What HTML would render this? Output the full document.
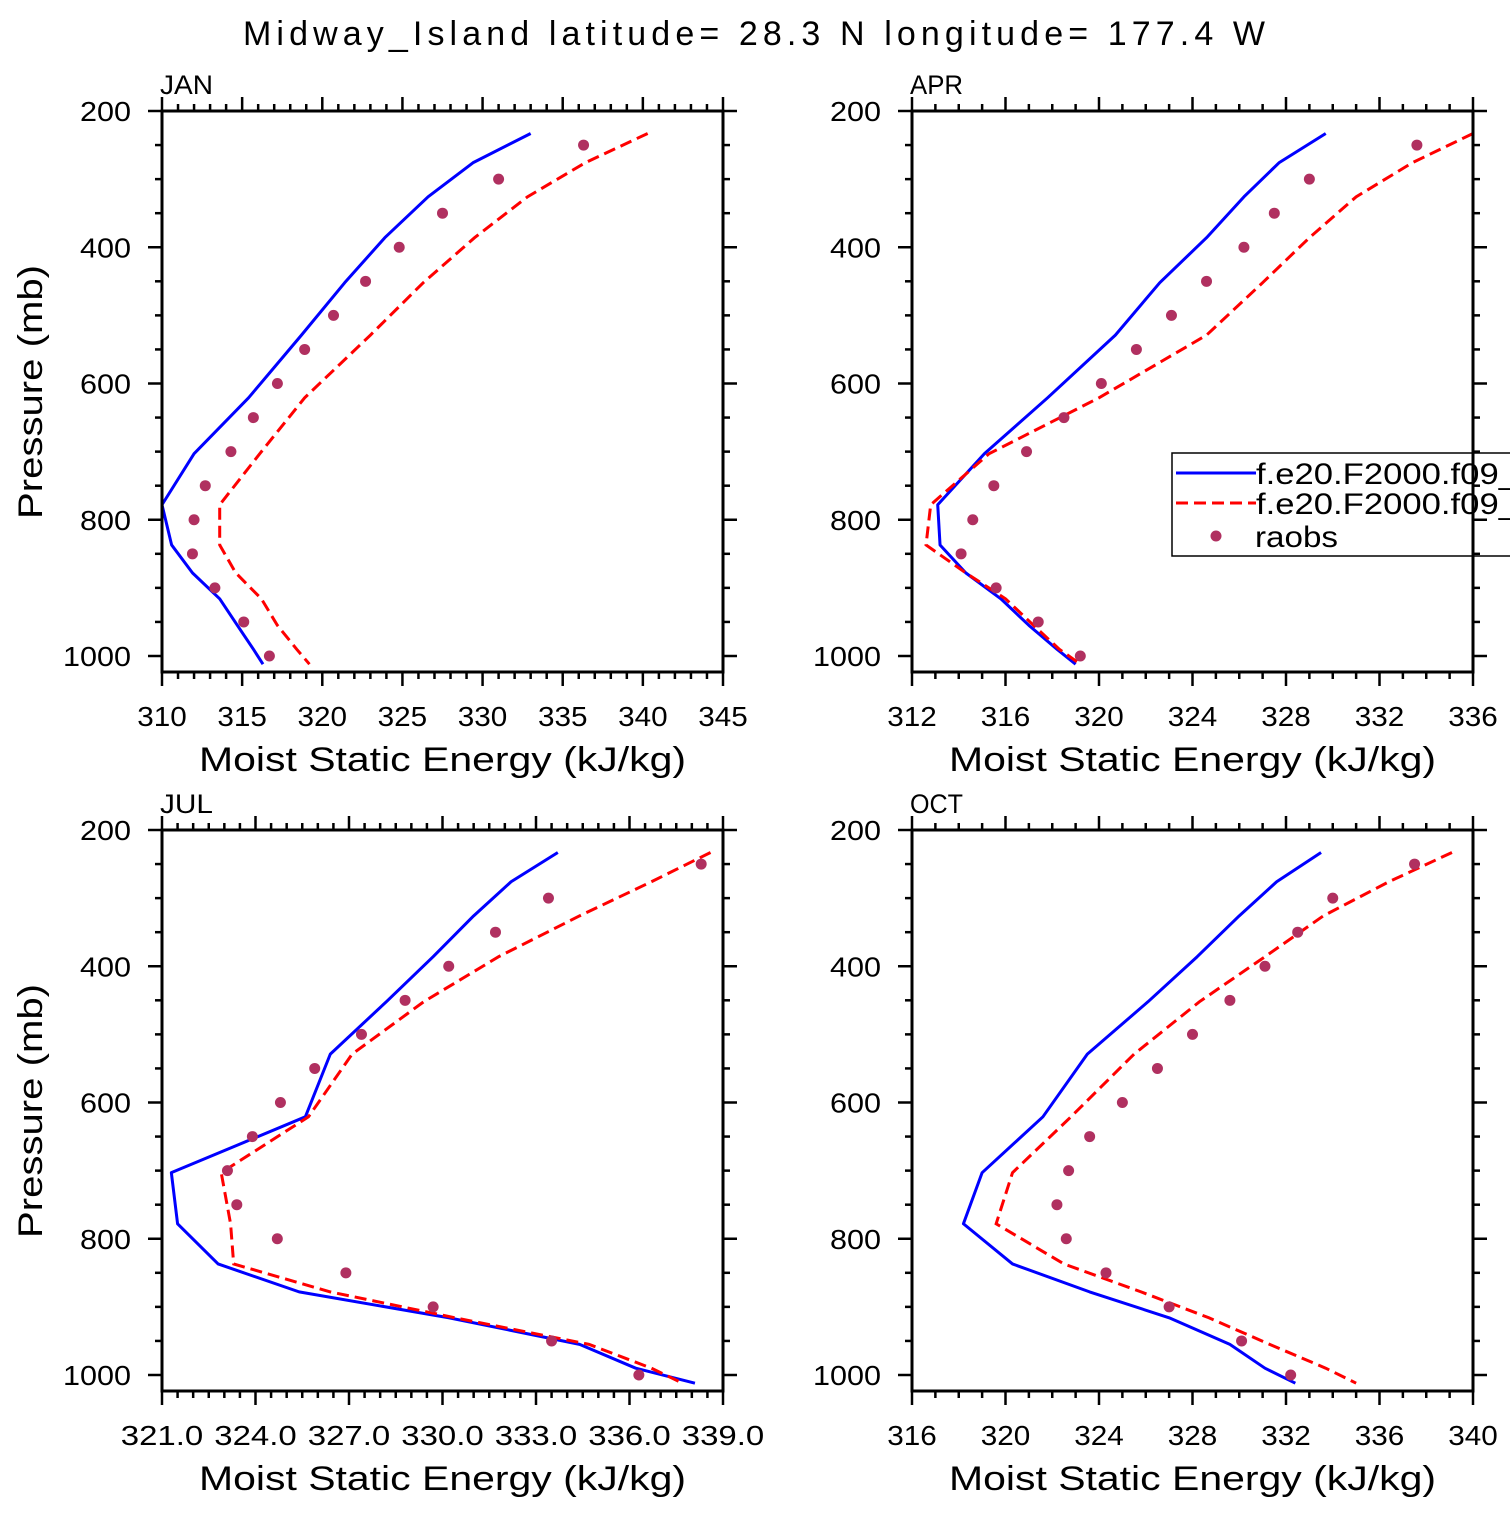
<!DOCTYPE html>
<html><head><meta charset="utf-8"><style>
html,body{margin:0;padding:0;background:#fff;}
svg text{font-family:"Liberation Sans","DejaVu Sans",sans-serif;fill:#000;}
</style></head><body>
<svg id="c" width="1510" height="1510" viewBox="0 0 1510 1510" xmlns="http://www.w3.org/2000/svg">
<text x="243" y="45" font-size="34" textLength="1022" lengthAdjust="spacing">Midway_Island  latitude= 28.3 N longitude= 177.4 W</text>
</svg>
<script>
const P_MODEL=[233,276,326,386,452,529,621,703,778,837,878,916,955,990,1012];
const P_OBS=[250,300,350,400,450,500,550,600,650,700,750,800,850,900,950,1000];
const JAN_BLUE=[333.0,329.4,326.6,323.9,321.4,318.7,315.4,312.0,310.0,310.6,311.9,313.6,314.7,315.7,316.3];
const JAN_RED=[340.3,336.4,332.8,329.5,326.3,323.0,318.9,316.1,313.6,313.6,314.6,316.2,317.2,318.4,319.2];
const JAN_OBS=[336.3,331.0,327.5,324.8,322.7,320.7,318.9,317.2,315.7,314.3,312.7,312.0,311.9,313.3,315.1,316.7];
const APR_BLUE=[329.7,327.7,326.2,324.6,322.6,320.7,317.8,315.1,313.1,313.2,314.3,315.8,317.0,318.2,319.0];
const APR_RED=[336.0,333.4,331.0,329.0,327.0,324.6,320.0,315.3,312.8,312.6,314.3,316.0,317.2,318.3,319.2];
const APR_OBS=[333.6,329.0,327.5,326.2,324.6,323.1,321.6,320.1,318.5,316.9,315.5,314.6,314.1,315.6,317.4,319.2];
const JUL_BLUE=[333.7,332.2,331.0,329.7,328.2,326.4,325.6,321.3,321.5,322.8,325.4,330.2,334.4,336.2,338.1];
const JUL_RED=[338.6,336.7,334.4,331.8,329.4,327.1,325.7,322.9,323.2,323.3,326.4,330.4,334.7,336.7,337.7];
const JUL_OBS=[338.3,333.4,331.7,330.2,328.8,327.4,325.9,324.8,323.9,323.1,323.4,324.7,326.9,329.7,333.5,336.3];
const OCT_BLUE=[333.5,331.6,330.0,328.2,326.1,323.5,321.6,319.0,318.2,320.3,323.6,327.0,329.6,331.1,332.4];
const OCT_RED=[339.1,336.4,333.6,331.1,328.3,325.5,322.8,320.3,319.6,322.5,325.8,328.7,331.3,333.7,335.0];
const OCT_OBS=[337.5,334.0,332.5,331.1,329.6,328.0,326.5,325.0,323.6,322.7,322.2,322.6,324.3,327.0,330.1,332.2];
const Y_TICKS=[200,400,600,800,1000];
const JAN_XTICKS=[310,315,320,325,330,335,340,345];
const APR_XTICKS=[312,316,320,324,328,332,336];
const JUL_XTICKS=[321,324,327,330,333,336,339];
const OCT_XTICKS=[316,320,324,328,332,336,340];

const svg=document.getElementById('c');
const NS='http://www.w3.org/2000/svg';
function mk(tag,attrs,parent){const e=document.createElementNS(NS,tag);for(const k in attrs)e.setAttribute(k,attrs[k]);(parent||svg).appendChild(e);return e;}

function panel(o){
  const L=o.left,T=o.top,W=561,H=561;
  const R=L+W,B=T+H;
  const sx=W/(o.xmax-o.xmin);
  const X=v=>L+(v-o.xmin)*sx;
  const Y=p=>T+(p-200)*0.68125;
  const g=mk('g',{});
  
  
  const cp=mk('clipPath',{id:'cp'+o.name},g);
  mk('rect',{x:L,y:T-30,width:W+10,height:H+30},cp);
  const lbl=mk('text',{x:L-2,y:T-17,'font-size':27,textLength:53,lengthAdjust:'spacingAndGlyphs'},g);
  
  
  lbl.textContent=o.label;
  const ptsB=o.blue.map((v,i)=>X(v)+','+Y(P_MODEL[i])).join(' ');
  const lb=mk('polyline',{points:ptsB,fill:'none',stroke:'#0000ff','stroke-width':3,'stroke-linejoin':'round','clip-path':'url(#cp'+o.name+')'},g);
  
  
  const ptsR=o.red.map((v,i)=>X(v)+','+Y(P_MODEL[i])).join(' ');
  const lr=mk('polyline',{points:ptsR,fill:'none',stroke:'#ff0000','stroke-width':3,'stroke-dasharray':'12 6','clip-path':'url(#cp'+o.name+')'},g);
  
  
  o.obs.forEach((v,i)=>{
    const c=mk('circle',{cx:X(v),cy:Y(P_OBS[i]),r:5.5,fill:'#b03060'},g);
    
    
  });
  if(o.legend) o.legend(g);
  const fr=mk('rect',{x:L,y:T,width:W,height:H,fill:'none',stroke:'#000','stroke-width':3},g);
  
  
  for(let v=o.xmin;v<=o.xmax+1e-9;v+=o.minor){
    const isMaj=o.xt.some(t=>Math.abs(t-v)<1e-6);
    const len=isMaj?14:7, x=X(v);
    mk('line',{x1:x,y1:T,x2:x,y2:T-len,stroke:'#000','stroke-width':2.5},g);
    mk('line',{x1:x,y1:B,x2:x,y2:B+len,stroke:'#000','stroke-width':2.5},g);
  }
  o.xt.forEach(t=>{
    const s=o.fmt?t.toFixed(1):String(t);
    const tx=mk('text',{x:X(t),y:B+54,'font-size':28,'text-anchor':'middle',textLength:s.length*16.5,lengthAdjust:'spacingAndGlyphs'},g);
    
    
    tx.textContent=s;
  });
  for(let p=200;p<=1000;p+=50){
    const isMaj=p%200===0, len=isMaj?14:7, y=Y(p);
    mk('line',{x1:L,y1:y,x2:L-len,y2:y,stroke:'#000','stroke-width':2.5},g);
    mk('line',{x1:R,y1:y,x2:R+len,y2:y,stroke:'#000','stroke-width':2.5},g);
  }
  Y_TICKS.forEach(p=>{
    const s=String(p);
    const ty=mk('text',{x:L-31,y:Y(p)+10,'font-size':28,'text-anchor':'end',textLength:s.length*17,lengthAdjust:'spacingAndGlyphs'},g);
    
    
    ty.textContent=s;
  });
  const xt=mk('text',{x:L+37,y:B+99,'font-size':34,textLength:487,lengthAdjust:'spacingAndGlyphs'},g);
  
  
  xt.textContent='Moist Static Energy (kJ/kg)';
  if(o.ytitle){
    const yt=mk('text',{x:-127,y:0,'font-size':34,textLength:254,lengthAdjust:'spacingAndGlyphs',transform:'translate(42,'+(T+281)+') rotate(-90)'},g);
    
    
    yt.textContent='Pressure (mb)';
  }
}

function legend(g){
  const lg=mk('g',{},g);
  
  
  mk('rect',{x:1172,y:453,width:360,height:103,fill:'none',stroke:'#000','stroke-width':1.5},lg);
  mk('line',{x1:1176,y1:473,x2:1256,y2:473,stroke:'#0000ff','stroke-width':3},lg);
  mk('line',{x1:1176,y1:503,x2:1256,y2:503,stroke:'#ff0000','stroke-width':3,'stroke-dasharray':'12 6'},lg);
  mk('circle',{cx:1216,cy:536,r:5.5,fill:'#b03060'},lg);
  const t1=mk('text',{x:1256,y:484,'font-size':30,textLength:262,lengthAdjust:'spacingAndGlyphs'},lg);
  
  
  t1.textContent='f.e20.F2000.f09_';
  const t2=mk('text',{x:1256,y:514,'font-size':30,textLength:262,lengthAdjust:'spacingAndGlyphs'},lg);
  
  
  t2.textContent='f.e20.F2000.f09_';
  const t3=mk('text',{x:1255,y:547,'font-size':30,textLength:83,lengthAdjust:'spacingAndGlyphs'},lg);
  
  
  t3.textContent='raobs';
}

panel({name:'jan',label:'JAN',left:162,top:111,xmin:310,xmax:345,minor:1,xt:JAN_XTICKS,blue:JAN_BLUE,red:JAN_RED,obs:JAN_OBS,ytitle:true});
panel({name:'apr',label:'APR',left:912,top:111,xmin:312,xmax:336,minor:1,xt:APR_XTICKS,blue:APR_BLUE,red:APR_RED,obs:APR_OBS,legend:legend});
panel({name:'jul',label:'JUL',left:162,top:830,xmin:321,xmax:339,minor:0.5,xt:JUL_XTICKS,blue:JUL_BLUE,red:JUL_RED,obs:JUL_OBS,ytitle:true,fmt:true});
panel({name:'oct',label:'OCT',left:912,top:830,xmin:316,xmax:340,minor:1,xt:OCT_XTICKS,blue:OCT_BLUE,red:OCT_RED,obs:OCT_OBS});
</script>
</body></html>
